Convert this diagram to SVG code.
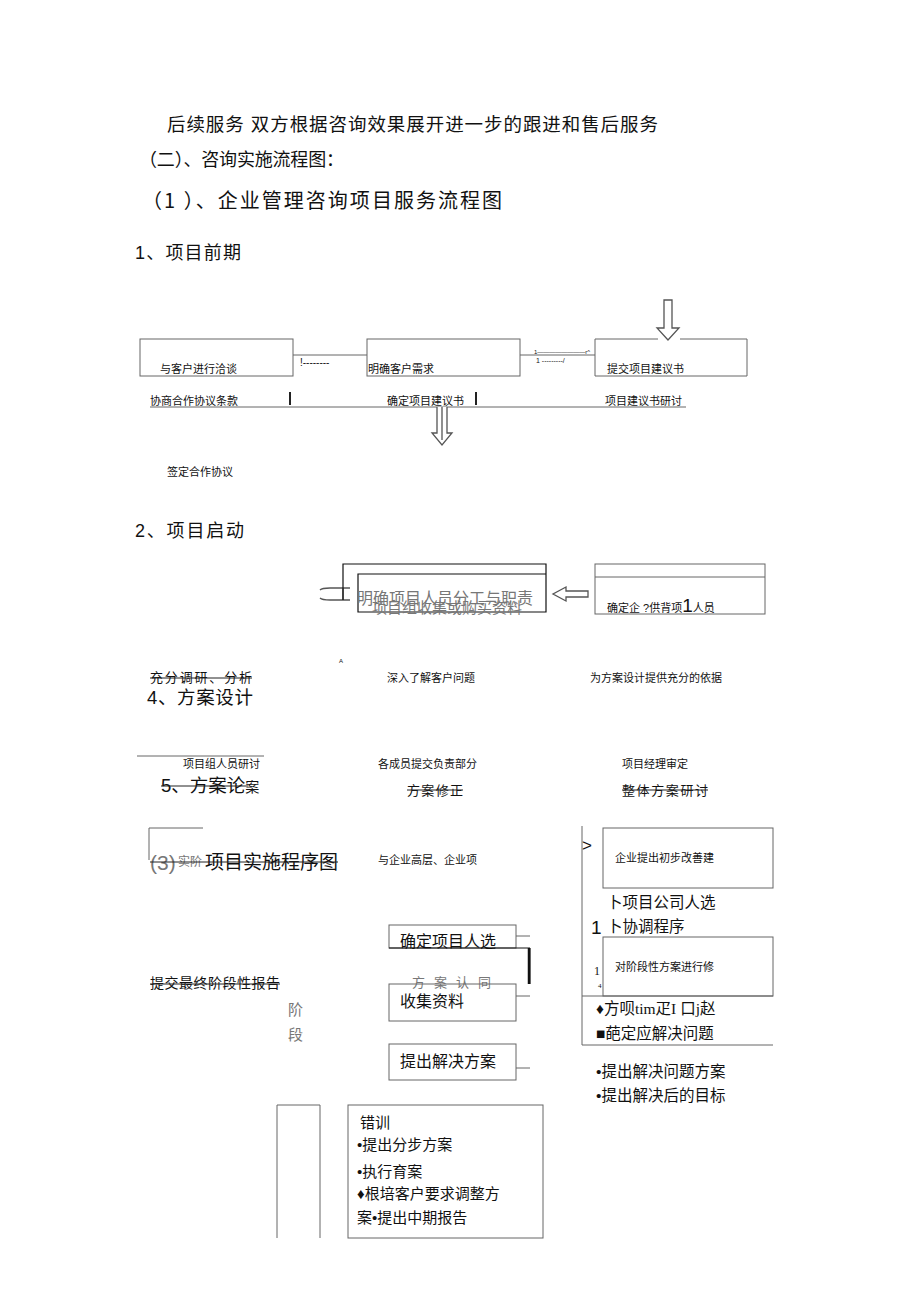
<svg xmlns="http://www.w3.org/2000/svg" width="920" height="1303" viewBox="0 0 920 1303">
<style>
text{font-family:"Liberation Sans","Noto Sans CJK SC",sans-serif;fill:#111}
.cjk{font-family:"Noto Sans CJK SC",sans-serif}
.h{font-size:18px}
.s{font-size:11px}
.m{font-size:13px}
.g{fill:#777}
.box{fill:none;stroke:#666;stroke-width:1}
.bk{fill:none;stroke:#111;stroke-width:1.2}
.ln{fill:none;stroke:#666;stroke-width:1}
.st{stroke:#222;stroke-width:1;fill:none}
.arr{fill:#fff;stroke:#555;stroke-width:1.3}
</style>
<rect width="920" height="1303" fill="#fff"/>
<g id="headings">
<text class="h" x="167" y="131" textLength="491" style="font-size:18.5px">后续服务 双方根据咨询效果展开进一步的跟进和售后服务</text>
<text class="h cjk" x="139" y="166" textLength="205">（二）、咨询实施流程图：</text>
<text class="cjk" x="142" y="208" style="font-size:20px" textLength="360">（1 ）、企业管理咨询项目服务流程图</text>
<text x="135" y="259" style="font-size:18px" textLength="106">1、项目前期</text>
<text x="135" y="537" style="font-size:18px" textLength="109">2、项目启动</text>
<text x="147" y="704" style="font-size:18.5px" textLength="106">4、方案设计</text>
</g>
<g id="connectors">
<line class="ln" x1="293" y1="355" x2="367" y2="355" stroke="#999" stroke-width="2"/>
<line class="ln" x1="520" y1="355" x2="595" y2="355" stroke="#999" stroke-width="2"/>
<path class="arr" d="M664 300 H672 V328 H679 L668 340 L657 328 H664 Z"/>
<line class="ln" x1="150" y1="407" x2="686" y2="407"/>
<path class="arr" d="M437 407 V433 H432 L442 445 L452 433 H447 V407 M442 407 V440"/>
<path class="arr" d="M350 588 H330 Q322 588 320 590 M350 600 H330 Q322 600 320 598 M343 588 V600"/>
<path class="arr" d="M588 591 H566 V587 L553 594 L566 601 V597 H588 Z"/>
<line class="ln" x1="137" y1="756" x2="264" y2="756"/>
<path class="ln" d="M149 860 V828 H203"/>
<path class="ln" d="M582 826 V1045"/>
<line class="ln" x1="582" y1="996" x2="773" y2="996"/>
<line class="ln" x1="582" y1="1045" x2="773" y2="1045"/>
<line class="ln" x1="516" y1="936" x2="530" y2="936" stroke="#333"/>
<line class="ln" x1="516" y1="996" x2="530" y2="996" stroke="#333"/>
<line class="ln" x1="516" y1="1068" x2="530" y2="1068" stroke="#333"/>
</g>
<g id="n1"><rect class="box" x="140" y="339" width="153" height="37"/><text class="s" x="160" y="373">与客户进行洽谈</text></g>
<g id="n2"><rect class="box" x="367" y="339" width="153" height="37"/><text class="s" x="368" y="373">明确客户需求</text></g>
<g id="n3"><path class="box" d="M658 339 H595 V376 H747 V339 H680"/><text class="s" x="607" y="373">提交项目建议书</text></g>
<g id="conn-labels">
<text x="300" y="366" style="font-size:10px" fill="#444">!--------</text>
<text x="534" y="354" style="font-size:6px" fill="#666">1————————r^</text>
<text x="536" y="363" style="font-size:7px" fill="#444">1 ---------/</text>
</g>
<g id="row1b">
<text class="s" x="150" y="405">协商合作协议条款</text>
<line x1="290" y1="392" x2="290" y2="405" stroke="#222" stroke-width="2"/>
<text class="s" x="387" y="405">确定项目建议书</text>
<line x1="476" y1="392" x2="476" y2="405" stroke="#222" stroke-width="2"/>
<text class="s" x="605" y="405">项目建议书研讨</text>
</g>
<g id="n4"><text class="s" x="167" y="476">签定合作协议</text></g>
<g id="n5">
<path class="bk" d="M343 600 V564 H546 V612 H358 V574 H546"/>
<text x="357" y="604" style="font-size:16px" class="g">明确项目人员分工与职责</text>
<text x="372" y="613" style="font-size:15px" class="g">项目组收集或购买资料</text>
</g>
<g id="n6">
<rect class="box" x="595" y="564" width="170" height="50"/>
<line class="ln" x1="595" y1="577" x2="765" y2="577"/>
<text class="s" x="607" y="612">确定企 ?供背项<tspan style="font-size:19px">1</tspan>人员</text>
</g>
<g id="row2b">
<text x="339" y="663" style="font-size:6px" fill="#666">A</text>
<text x="150" y="682" style="font-size:13px" textLength="102">充分调研、分析</text>
<line class="st" x1="150" y1="678" x2="252" y2="678"/>
<text class="s" x="387" y="682">深入了解客户问题</text>
<text class="s" x="590" y="682">为方案设计提供充分的依据</text>
</g>
<g id="row3">
<text class="s" x="183" y="768">项目组人员研讨</text>
<text class="s" x="378" y="768">各成员提交负责部分</text>
<text class="s" x="622" y="768">项目经理审定</text>
<text x="161" y="792" style="font-size:18.5px">5、方案论<tspan style="font-size:14px">案</tspan></text>
<line class="st" x1="161" y1="786" x2="248" y2="786"/>
<text class="m" x="407" y="795" textLength="56">方案修正</text>
<line class="st" x1="407" y1="790" x2="463" y2="790"/>
<text class="m" x="622" y="795" textLength="86">整体方案研讨</text>
<line class="st" x1="622" y1="790" x2="708" y2="790"/>
</g>
<g id="title3">
<text x="150" y="870" style="font-size:21px" class="g">(3)</text>
<text x="178" y="866" style="font-size:12px" class="g">实阶</text>
<text x="205" y="869" style="font-size:19px" textLength="133">项⽬实施程序图</text>
<line class="st" x1="150" y1="862" x2="338" y2="862"/>
<text class="s" x="378" y="864">与企业高层、企业项</text>
</g>
<g id="n7"><text x="582" y="851" style="font-size:17px">&gt;</text><rect class="box" x="603" y="828" width="170" height="60"/><text class="s" x="615" y="862">企业提出初步改善建</text></g>
<g id="n8">
<text x="607" y="908" style="font-size:15.5px" fill="#333">卜项目公司人选</text>
<text x="591" y="934" style="font-size:19px">1</text>
<text x="607" y="932" style="font-size:15.5px" fill="#333">卜协调程序</text>
</g>
<g id="n9"><rect class="box" x="603" y="937" width="170" height="59"/><text class="s" x="615" y="971">对阶段性方案进行修</text>
<text x="594" y="975" style="font-size:12px;font-family:'Liberation Serif',serif" fill="#333">1</text>
<text x="598" y="988" style="font-size:7px;font-family:'Liberation Serif',serif" fill="#333">4</text></g>
<g id="n10">
<text x="596" y="1014" style="font-size:15.5px" fill="#333">♦方呗<tspan style="font-family:'Liberation Serif','Noto Sans CJK SC',serif">tim</tspan>疋<tspan style="font-family:'Liberation Serif','Noto Sans CJK SC',serif">I </tspan>口<tspan style="font-family:'Liberation Serif','Noto Sans CJK SC',serif">j</tspan>赵</text>
<text x="596" y="1039" style="font-size:15.5px" fill="#333">■葩定应解决问题</text>
<text x="596" y="1077" style="font-size:15.5px" fill="#333">•提出解决问题方案</text>
<text x="596" y="1101" style="font-size:15.5px" fill="#333">•提出解决后的目标</text>
</g>
<g id="n11">
<rect class="box" x="389" y="925" width="127" height="23" stroke="#444"/>
<text x="400" y="947" style="font-size:16px" fill="#333">确定项目人选</text>
</g>
<g id="n12">
<path d="M389 948 H530 V984" fill="none" stroke="#111" stroke-width="1"/>
<line x1="529" y1="948" x2="529" y2="984" stroke="#111" stroke-width="2.5"/>
<text x="412" y="987" style="font-size:13px;letter-spacing:9px" class="g">方案认同</text>
</g>
<g id="n13"><rect class="box" x="389" y="984" width="127" height="37" stroke="#444"/><text x="400" y="1007" style="font-size:16px" fill="#333">收集资料</text></g>
<g id="n14"><rect class="box" x="389" y="1044" width="127" height="36" stroke="#444"/><text x="400" y="1067" style="font-size:16px" fill="#333">提出解决方案</text></g>
<g id="n15">
<text x="150" y="988" style="font-size:14px" textLength="130">提交最终阶段性报告</text>
<line class="st" x1="150" y1="984" x2="280" y2="984"/>
<text x="288" y="1015" style="font-size:15px" class="g">阶</text>
<text x="288" y="1040" style="font-size:15px" class="g">段</text>
</g>
<g id="n16"><path class="ln" d="M277 1238 V1105 H320 V1238" stroke="#888"/></g>
<g id="n17">
<rect class="box" x="348" y="1105" width="195" height="133"/>
<text x="360" y="1128" style="font-size:15px">错训</text>
<text x="357" y="1150" style="font-size:15px" fill="#333">•提出分步方案</text>
<text x="357" y="1177" style="font-size:15px" fill="#333">•执行育案</text>
<text x="357" y="1199" style="font-size:15px" fill="#333">♦根培客户要求调整方</text>
<text x="357" y="1223" style="font-size:15px" fill="#333">案•提出中期报告</text>
</g>
</svg>
